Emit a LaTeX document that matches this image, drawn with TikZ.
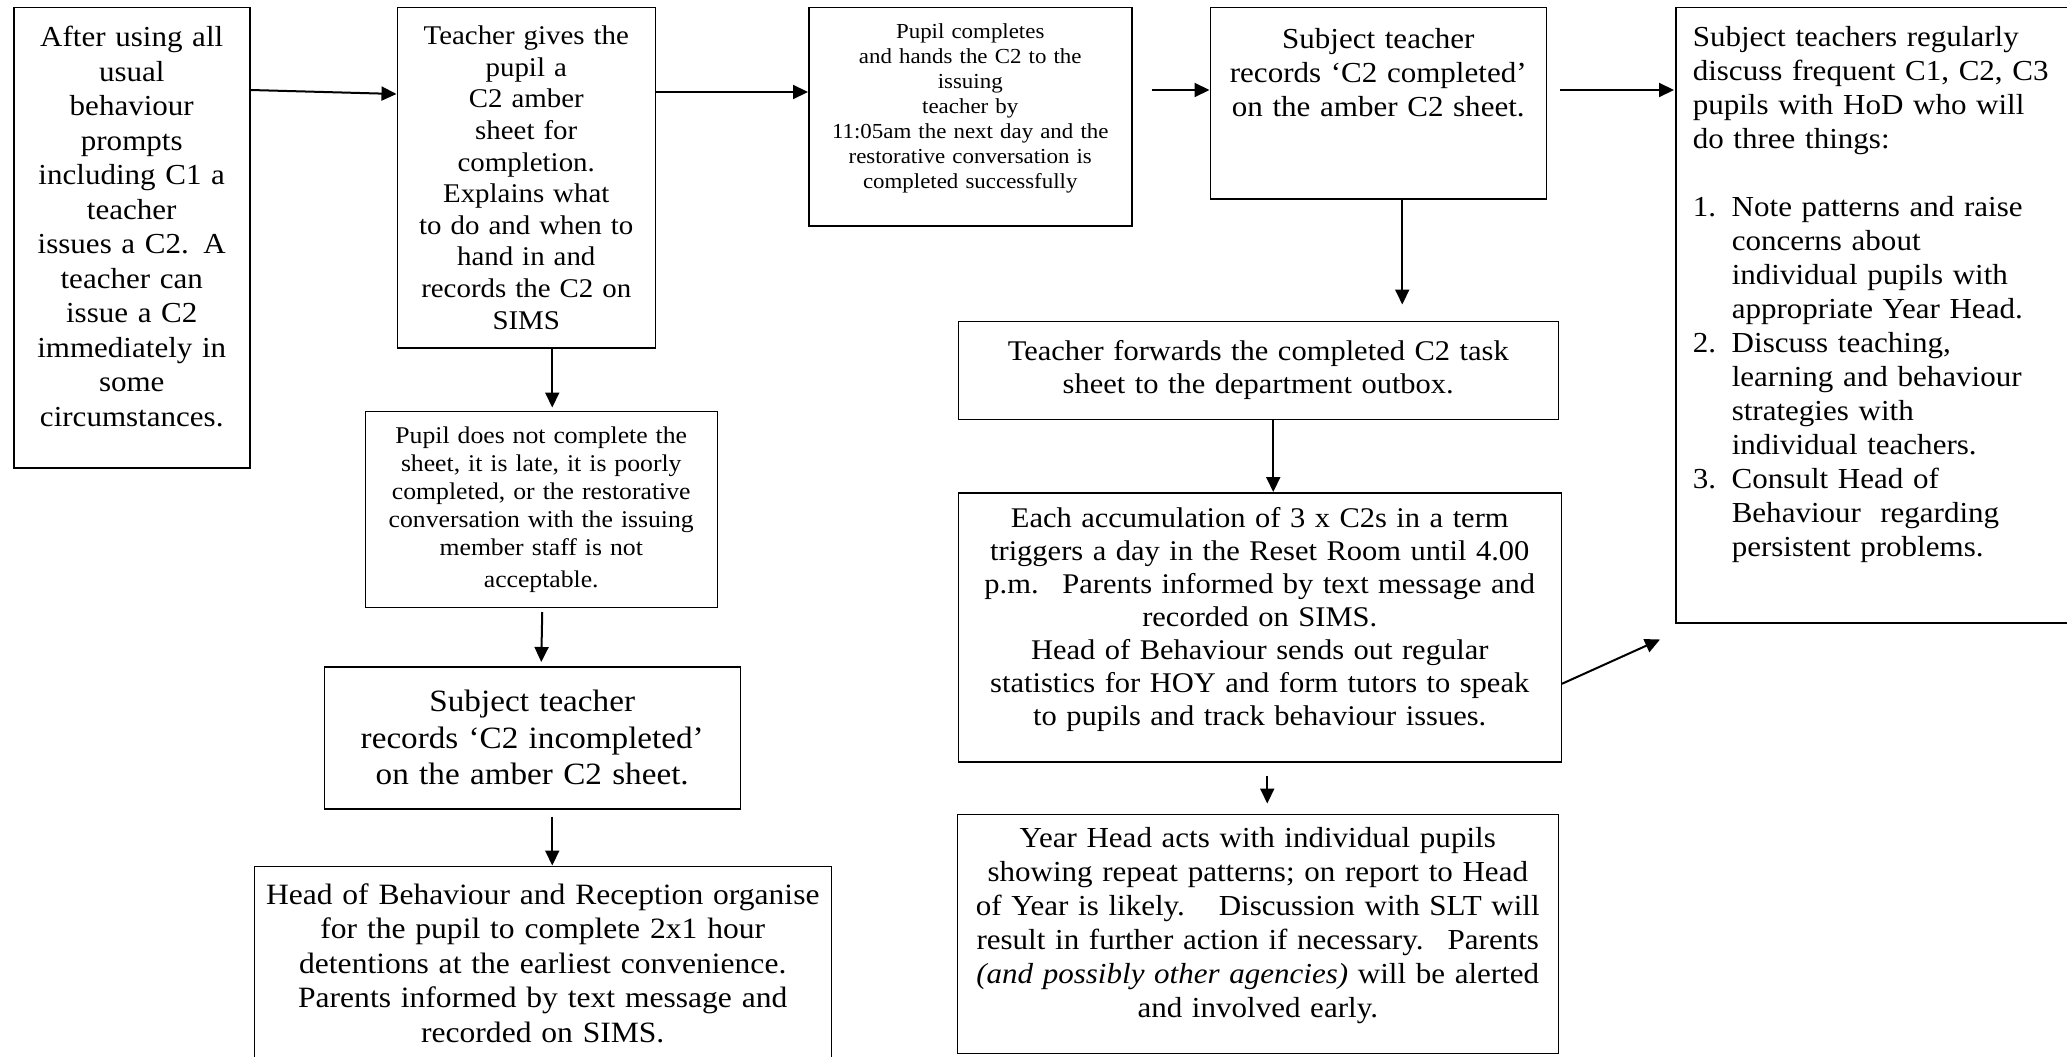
\documentclass[tikz,border=0pt]{standalone}
\usepackage{fontspec}
\setmainfont{Liberation Serif}[FakeStretch=1.07]
\usetikzlibrary{positioning, arrows.meta}

\begin{document}
\begin{tikzpicture}[x=1pt, y=1pt, >={Triangle[length=15pt, width=14pt]}, line width=2pt,
        box/.style={draw, line width=1.5pt, inner sep=6pt, align=center},
        big/.style={font=\fontsize{29pt}{34pt}\selectfont}]
        \useasboundingbox (0,0) rectangle (2067,-1057);

        % Top row
        \node (Prompts) [box, anchor=north west, minimum width=236pt, minimum height=460pt, text width=224pt, text depth=402pt, font=\fontsize{29pt}{34.5pt}\selectfont] at (13,-7)
            {After using all\\ usual\\ behaviour\\ prompts\\ including C1 a\\ teacher\\ issues a C2. A\\ teacher can\\ issue a C2\\ immediately in\\ some\\ circumstances.};
        \node (IssueSheet) [box, right=146pt of Prompts.north east, anchor=north west, minimum width=258pt, minimum height=340pt, text width=246pt, font=\fontsize{27pt}{31.6pt}\selectfont]
            {Teacher gives the\\ pupil a\\ C2 amber\\ sheet for\\ completion.\\ Explains what\\ to do and when to\\ hand in and\\ records the C2 on\\ SIMS};
        \node (Completes) [box, right=152pt of IssueSheet.north east, anchor=north west, minimum width=323pt, minimum height=218pt, text width=311pt, text depth=171pt, font=\fontsize{21.4pt}{25pt}\selectfont]
            {Pupil completes\\ and hands the C2 to the\\ issuing\\ teacher by\\ 11:05am the next day and the\\ restorative conversation is\\ completed successfully};
        \node (RecordDone) [box, big, right=77pt of Completes.north east, anchor=north west, minimum width=336pt, minimum height=191pt, text width=324pt, text depth=129pt]
            {Subject teacher\\ records ‘C2 completed’\\ on the amber C2 sheet.};
        \node (HoDTalk) [box, big, right=128pt of RecordDone.north east, anchor=north west, minimum width=394pt, minimum height=615pt, text width=360pt, inner xsep=17pt, text depth=557pt, align=left]
            {Subject teachers regularly\\ discuss frequent C1, C2, C3\\ pupils with HoD who will\\ do three things:\\[34pt]
             \makebox[39pt][l]{1.}Note patterns and raise\\ \hspace*{39pt}concerns about\\ \hspace*{39pt}individual pupils with\\ \hspace*{39pt}appropriate Year Head.\\
             \makebox[39pt][l]{2.}Discuss teaching,\\ \hspace*{39pt}learning and behaviour\\ \hspace*{39pt}strategies with\\ \hspace*{39pt}individual teachers.\\
             \makebox[39pt][l]{3.}Consult Head of\\ \hspace*{39pt}Behaviour~ regarding\\ \hspace*{39pt}persistent problems.};

        % Left column
        \node (NotDone) [box, below=62pt of IssueSheet.south west, anchor=north west, xshift=-32pt, minimum width=352pt, minimum height=196pt, text width=340pt, font=\fontsize{24pt}{28pt}\selectfont]
            {Pupil does not complete the\\ sheet, it is late, it is poorly\\ completed, or the restorative\\ conversation with the issuing\\ member staff is not\\[4pt] acceptable.};
        \node (RecordNot) [box, below=58pt of NotDone.south west, anchor=north west, xshift=-41pt, minimum width=416pt, minimum height=142pt, text width=404pt, font=\fontsize{31pt}{36.5pt}\selectfont]
            {Subject teacher\\ records ‘C2 incompleted’\\ on the amber C2 sheet.};
        \node (Detentions) [box, below=56pt of RecordNot.south west, anchor=north west, xshift=-70pt, minimum width=577pt, minimum height=194pt, text width=565pt, font=\fontsize{29.5pt}{34.5pt}\selectfont]
            {Head of Behaviour and Reception organise\\ for the pupil to complete 2x1 hour\\ detentions at the earliest convenience.\\ Parents informed by text message and\\ recorded on SIMS.};

        % Right column
        \node (Outbox) [box, below=121pt of RecordDone.south west, anchor=north west, xshift=-252pt, minimum width=600pt, minimum height=98pt, text width=588pt, font=\fontsize{28.5pt}{33pt}\selectfont]
            {Teacher forwards the completed C2 task\\ sheet to the department outbox.};
        \node (ResetRoom) [box, below=72pt of Outbox.south west, anchor=north west, minimum width=603pt, minimum height=269pt, text width=591pt, text depth=220pt, font=\fontsize{28.5pt}{33pt}\selectfont]
            {Each accumulation of 3 x C2s in a term\\ triggers a day in the Reset Room until 4.00\\ p.m.~ Parents informed by text message and\\ recorded on SIMS.\\ Head of Behaviour sends out regular\\ statistics for HOY and form tutors to speak\\ to pupils and track behaviour issues.};
        \node (YearHead) [box, big, below=51pt of ResetRoom.south west, anchor=north west, xshift=-1pt, minimum width=601pt, minimum height=239pt, text width=589pt, text depth=192pt]
            {Year Head acts with individual pupils\\ showing repeat patterns; on report to Head\\ of Year is likely.~~ Discussion with SLT will\\ result in further action if necessary.~ Parents\\ \textit{(and possibly other agencies)} will be alerted\\ and involved early.};

        % Arrows along the top
        \draw[->] ([yshift=-83pt]Prompts.north east) -- ([yshift=-87pt]IssueSheet.north west);
        \draw[->] ([yshift=-85pt]IssueSheet.north east) -- ([yshift=-85pt]Completes.north west);
        \draw[->] ([xshift=19pt, yshift=-83pt]Completes.north east) -- ([yshift=-83pt]RecordDone.north west);
        \draw[->] ([xshift=13pt, yshift=-83pt]RecordDone.north east) -- ([xshift=-1pt, yshift=-83pt]HoDTalk.north west);

        % Incomplete branch
        \draw[->] ([xshift=26pt]IssueSheet.south) -- ([xshift=11pt, yshift=3pt]NotDone.north);
        \draw[->] ([xshift=1pt, yshift=-4pt]NotDone.south) -- ([xshift=9pt, yshift=4pt]RecordNot.north);
        \draw[->] ([xshift=20pt, yshift=-7pt]RecordNot.south) -- ([xshift=9.5pt]Detentions.north);

        % Completed branch
        \draw[->] ([xshift=24pt]RecordDone.south) -- ([xshift=144pt, yshift=16pt]Outbox.north);
        \draw[->] ([xshift=15pt]Outbox.south) -- ([xshift=13.5pt]ResetRoom.north);
        \draw[->] ([xshift=7.5pt, yshift=-13pt]ResetRoom.south) -- ([xshift=9.5pt, yshift=10pt]YearHead.north);
        \draw[->] ([yshift=-56.5pt]ResetRoom.east) -- ([xshift=-15pt, yshift=-16pt]HoDTalk.south west);
\end{tikzpicture}
\end{document}
